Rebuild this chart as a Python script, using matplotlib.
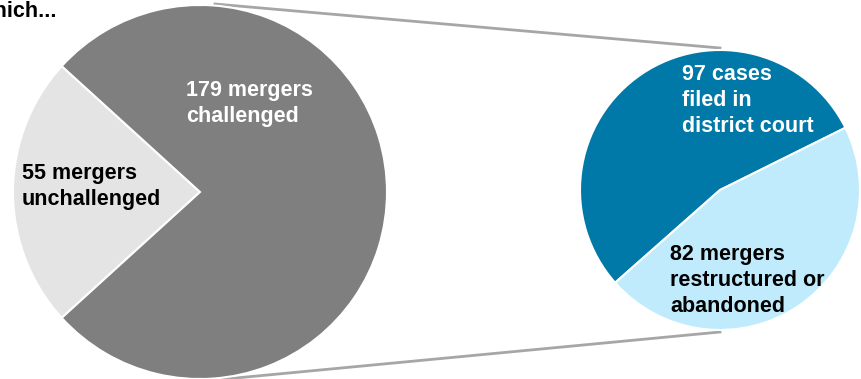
import matplotlib.pyplot as plt

# data
outer_labels = ["55 mergers\nunchallenged", "179 mergers\nchallenged"]
outer_values = [55, 179]
outer_colors = ["#e4e4e4", "#7f7f7f"]

inner_labels = ["97 cases\nfiled in\ndistrict court", "82 mergers\nrestructured or\nabandoned"]
inner_values = [97, 82]
inner_colors = ["#0079a8", "#bfebfd"]

W, H = 862, 379
plt.rcParams['font.family'] = ['Liberation Sans', 'DejaVu Sans']

fig = plt.figure(figsize=(W / 100, H / 100), dpi=100)
ax = fig.add_axes([0, 0, 1, 1])

# connector lines (behind pies)
ax.plot([215, 720], [H - 4, H - 48], color="#a6a6a6", lw=2, zorder=1)
ax.plot([215, 720], [H - 380, H - 332], color="#a6a6a6", lw=2, zorder=1)

# big pie: unchallenged slice centred on the left
big_start = 180 - 360 * outer_values[0] / sum(outer_values) / 2
ax.pie(outer_values, colors=outer_colors, startangle=big_start, center=(200, H - 192),
       radius=187, wedgeprops=dict(edgecolor="white", linewidth=1.5), frame=True)

# small pie
ax.pie(inner_values, colors=inner_colors, startangle=26.4, center=(720, H - 190),
       radius=140, wedgeprops=dict(edgecolor="white", linewidth=1.5), frame=True)

ax.set_xlim(0, W)
ax.set_ylim(0, H)
ax.set_aspect('equal')
ax.axis('off')

kw = dict(fontsize=15.5, fontweight='bold', va='top', ha='left', linespacing=1.3)
ax.text(186, H - 80, outer_labels[1], color="white", **kw)
ax.text(22, H - 163, outer_labels[0], color="black", **kw)
ax.text(682, H - 64, inner_labels[0], color="white", **kw)
ax.text(670, H - 244, inner_labels[1], color="black", **kw)

# cut-off heading
ax.text(57, H - 17, "Of which...", fontsize=15.5, fontweight='bold', va='baseline', ha='right')

fig.savefig("out.png", dpi=100)
